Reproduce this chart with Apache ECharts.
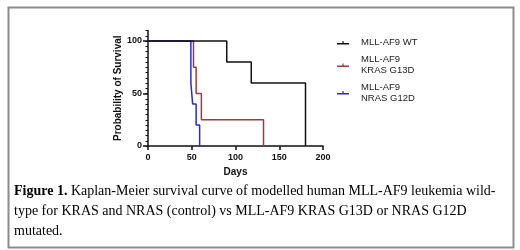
<!DOCTYPE html>
<html>
<head>
<meta charset="utf-8">
<script src="https://cdn.jsdelivr.net/npm/echarts@6/dist/echarts.min.js"></script>
<style>
  html, body { margin: 0; padding: 0; background: #fff; }
  #chart { width: 520px; height: 250px; }
</style>
</head>
<body>
<div id="chart"></div>
<script>
// survival steps: [day, % surviving]
const wtSurvival = [[0, 100], [90, 80], [118, 60], [180, 0]];
const krasSurvival = [[0, 100], [52, 75], [55, 50], [61, 25], [132, 0]];
const nrasSurvival = [[0, 100], [49, 60], [51, 40], [55, 20], [59, 0]];
const seriesNames = ['MLL-AF9 WT', 'MLL-AF9\nKRAS G13D', 'MLL-AF9\nNRAS G12D'];
const seriesColors = ['#111111', '#a33a3a', '#2a2ad0'];
const xTicks = [0, 50, 100, 150, 200];
const yTicks = [0, 50, 100];

const caption = '{b|Figure 1.} Kaplan-Meier survival curve of modelled human MLL-AF9 leukemia wild-\n' +
  'type for KRAS and NRAS (control) vs MLL-AF9 KRAS G13D or NRAS G12D\n' +
  'mutated.';

const legendIcon = 'path://M0,3.5H12V5H0Z M5.4,1.5H6.6V5H5.4Z';
const axisFont = { fontFamily: 'Liberation Sans', fontWeight: 'bold', fontSize: 9, color: '#111' };

function oneLegend(name, top) {
  return {
    data: [name],
    left: 337, top: top, padding: 0,
    itemWidth: 12, itemHeight: 5,
    icon: legendIcon,
    selectedMode: false,
    textStyle: { fontFamily: 'Liberation Sans', fontSize: 9.5, lineHeight: 10.7, color: '#222', padding: [0, 0, 0, 7] }
  };
}

const chart = echarts.init(document.getElementById('chart'), null, { renderer: 'canvas' });
chart.setOption({
  animation: false,
  title: {
    text: caption,
    left: 9, top: 176,
    textStyle: {
      fontFamily: 'Liberation Serif', fontSize: 14, lineHeight: 20, color: '#000', fontWeight: 'normal',
      rich: { b: { fontFamily: 'Liberation Serif', fontSize: 14, lineHeight: 20, fontWeight: 'bold', color: '#000' } }
    }
  },
  graphic: [{
    type: 'rect', left: 6, top: 5,
    shape: { width: 505, height: 240 },
    style: { fill: 'none', stroke: '#8c8c8c', lineWidth: 2 },
    z: -1
  }],
  legend: [
    oneLegend(seriesNames[0], 37.5),
    oneLegend(seriesNames[1], 54.5),
    oneLegend(seriesNames[2], 82)
  ],
  grid: { left: 148, right: 197, top: 30.5, bottom: 104 },
  xAxis: {
    type: 'value', min: 0, max: 200, interval: 50,
    name: 'Days', nameLocation: 'middle', nameGap: 21,
    nameTextStyle: { fontFamily: 'Liberation Sans', fontWeight: 'bold', fontSize: 10, color: '#111' },
    axisLine: { onZero: false, lineStyle: { color: '#111', width: 1.5 } },
    axisTick: { length: 4, lineStyle: { color: '#111', width: 1.5 }, customValues: xTicks },
    axisLabel: { margin: 7, customValues: xTicks, ...axisFont },
    splitLine: { show: false }
  },
  yAxis: [{
    type: 'value', min: 0, max: 110, interval: 5,
    name: 'Probability of Survival', nameLocation: 'middle', nameGap: 25,
    nameTextStyle: { fontFamily: 'Liberation Sans', fontWeight: 'bold', fontSize: 10, color: '#111' },
    axisLine: { show: true, lineStyle: { color: '#111', width: 1.5 } },
    axisTick: { length: 2.5, lineStyle: { color: '#111', width: 1 } },
    axisLabel: { show: false },
    splitLine: { show: false }
  }, {
    type: 'value', min: 0, max: 110, interval: 5, position: 'left',
    axisLine: { show: false },
    axisTick: { show: true, length: 5, customValues: yTicks, lineStyle: { color: '#111', width: 1.5 } },
    axisLabel: { margin: 6, customValues: yTicks, ...axisFont },
    splitLine: { show: false }
  }],
  series: [
    { name: seriesNames[1], type: 'line', step: 'end', data: krasSurvival, showSymbol: false, symbol: 'none',
      color: seriesColors[1], lineStyle: { width: 1.5, color: seriesColors[1] } },
    { name: seriesNames[2], type: 'line', step: 'end', data: nrasSurvival, showSymbol: false, symbol: 'none',
      color: seriesColors[2], lineStyle: { width: 1.5, color: seriesColors[2] } },
    { name: seriesNames[0], type: 'line', step: 'end', data: wtSurvival, showSymbol: false, symbol: 'none',
      color: seriesColors[0], lineStyle: { width: 1.5, color: seriesColors[0] } }
  ]
});
</script>
</body>
</html>
